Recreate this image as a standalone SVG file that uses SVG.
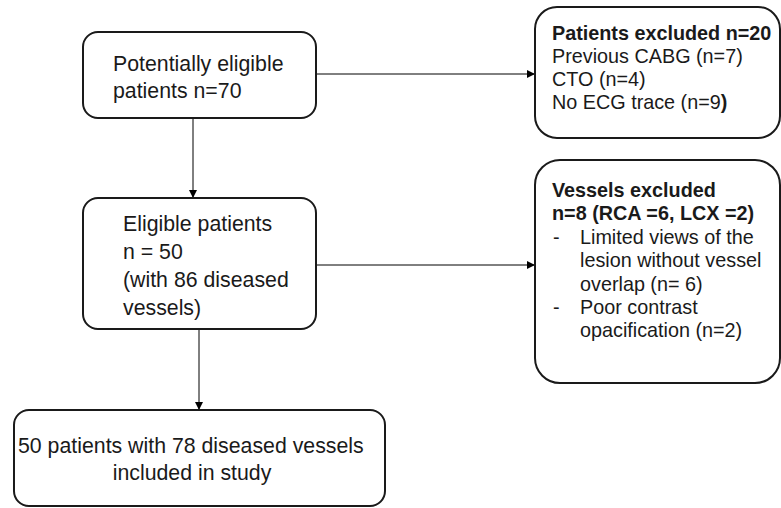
<svg xmlns="http://www.w3.org/2000/svg" width="781" height="508" viewBox="0 0 781 508">
<defs>
<marker id="arr" markerWidth="8" markerHeight="8" refX="7" refY="4" orient="auto" markerUnits="userSpaceOnUse">
<path d="M0,0 L8,4 L0,8 z" fill="#000"/>
</marker>
<style>
.box{fill:#fff;stroke:#1a1a1a;stroke-width:2}
.t{font-family:"Liberation Sans",Arial,sans-serif;font-size:21.3px;fill:#1a1a1a}
.r{font-family:"Liberation Sans",Arial,sans-serif;font-size:19.8px;fill:#1a1a1a}
.b{font-weight:bold}
.c{fill:none;stroke:#000;stroke-width:1}
</style>
</defs>
<rect width="781" height="508" fill="#fff"/>
<g id="connectors">
<line class="c" x1="316" y1="74" x2="534" y2="74" marker-end="url(#arr)"/>
<line class="c" x1="193" y1="118" x2="193" y2="197" marker-end="url(#arr)"/>
<line class="c" x1="316" y1="265" x2="534" y2="265" marker-end="url(#arr)"/>
<line class="c" x1="199" y1="329" x2="199" y2="409" marker-end="url(#arr)"/>
</g>
<g id="n1">
<rect class="box" x="83" y="32" width="233" height="86" rx="15"/>
<text class="t" x="113" y="71">Potentially eligible</text>
<text class="t" x="113" y="98">patients n=70</text>
</g>
<g id="n2">
<rect class="box" x="83" y="198" width="233" height="131" rx="15"/>
<text class="t" x="123" y="231">Eligible patients</text>
<text class="t" x="123" y="259">n = 50</text>
<text class="t" x="123" y="287">(with 86 diseased</text>
<text class="t" x="123" y="315">vessels)</text>
</g>
<g id="n3">
<rect class="box" x="14" y="410" width="371" height="96" rx="15"/>
<text class="t" x="18" y="453">50 patients with 78 diseased vessels</text>
<text class="t" x="192" y="480" text-anchor="middle">included in study</text>
</g>
<g id="e1">
<rect class="box" x="535" y="7" width="245" height="131" rx="22"/>
<text class="r b" x="552" y="40">Patients excluded n=20</text>
<text class="r" x="552" y="63">Previous CABG (n=7)</text>
<text class="r" x="552" y="86">CTO (n=4)</text>
<text class="r" x="552" y="109">No ECG trace (n=9<tspan class="b">)</tspan></text>
</g>
<g id="e2">
<rect class="box" x="535" y="160" width="245" height="223" rx="25"/>
<text class="r b" x="552" y="197">Vessels excluded</text>
<text class="r b" x="552" y="220">n=8 (RCA =6, LCX =2)</text>
<text class="r" x="553" y="244">-</text>
<text class="r" x="580" y="244">Limited views of the</text>
<text class="r" x="580" y="267">lesion without vessel</text>
<text class="r" x="580" y="291">overlap (n= 6)</text>
<text class="r" x="553" y="314">-</text>
<text class="r" x="580" y="314">Poor contrast</text>
<text class="r" x="580" y="337">opacification (n=2)</text>
</g>
</svg>
